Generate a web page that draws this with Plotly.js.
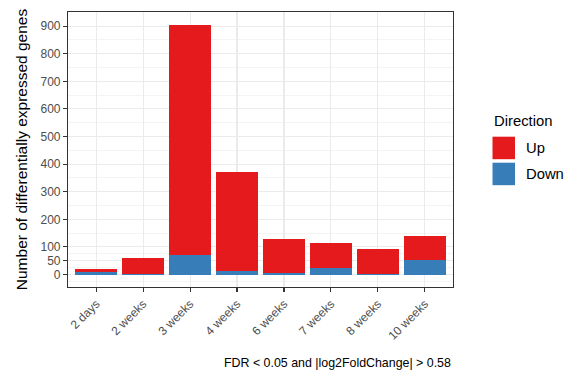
<!DOCTYPE html>
<html>
<head>
<meta charset="utf-8">
<script src="https://cdn.plot.ly/plotly-3.0.1.min.js"></script>
<style>
  html, body { margin: 0; padding: 0; background: #fff; }
  #chart { width: 565px; height: 375px; }
</style>
</head>
<body>
<div id="chart"></div>
<script>
// Time points after treatment
const timepoints = ['2 days', '2 weeks', '3 weeks', '4 weeks', '6 weeks', '7 weeks', '8 weeks', '10 weeks'];
// Number of differentially expressed genes per direction
const downGenes = [10, 2, 69, 14, 7, 22, 3, 53];
const upGenes   = [9, 59, 837, 358, 123, 93, 88, 88];
// Y axis breaks
const yBreaks = [0, 50, 100, 200, 300, 400, 500, 600, 700, 800, 900];
const yMinorBreaks = [-25, 25, 75, 150, 250, 350, 450, 550, 650, 750, 850, 950];

const colUp = '#E41A1C';
const colDown = '#377EB8';
const font = 'Liberation Sans, Arial, Helvetica, sans-serif';

const totals = upGenes.map((u, i) => u + downGenes[i]);
const ymax = Math.max(...totals);
const pad = 0.05 * ymax;

const traces = [
  { type: 'bar', name: 'Down', x: timepoints, y: downGenes,
    marker: { color: colDown, line: { width: 0 } }, showlegend: false, hoverinfo: 'x+y+name' },
  { type: 'bar', name: 'Up', x: timepoints, y: upGenes,
    marker: { color: colUp, line: { width: 0 } }, showlegend: false, hoverinfo: 'x+y+name' }
];

// Legend drawn as keys in paper space to the right of the panel
const keyX0 = 492.5, keyW = 22.5, keyH = 22.5;
const W = 565, H = 375;
const L = 68, R = 112, T = 12, B = 88;
const pw = W - L - R, ph = H - T - B;
const px = v => (v - L) / pw;
const py = v => 1 - (v - T) / ph;

const legendKeys = [
  { label: 'Up', color: colUp, top: 136.7 },
  { label: 'Down', color: colDown, top: 162.7 }
];

const shapes = legendKeys.map(k => ({
  type: 'rect', xref: 'paper', yref: 'paper',
  x0: px(keyX0), x1: px(keyX0 + keyW), y0: py(k.top + keyH), y1: py(k.top),
  fillcolor: k.color, line: { width: 0 }
}));

const annotations = [
  { text: 'Direction', xref: 'paper', yref: 'paper', x: px(492), y: py(121),
    xanchor: 'left', yanchor: 'middle', showarrow: false,
    font: { family: font, size: 14.8, color: '#000' } },
  ...legendKeys.map(k => ({
    text: k.label, xref: 'paper', yref: 'paper', x: px(524), y: py(k.top + keyH / 2),
    xanchor: 'left', yanchor: 'middle', showarrow: false,
    font: { family: font, size: 14.8, color: '#000' }
  })),
  { text: 'FDR < 0.05 and |log2FoldChange| > 0.58', xref: 'paper', yref: 'paper',
    x: 1, y: py(363), xanchor: 'right', yanchor: 'middle', showarrow: false,
    font: { family: font, size: 12.4, color: '#000' } }
];

const layout = {
  width: W, height: H,
  margin: { l: L, r: R, t: T, b: B, pad: 0 },
  paper_bgcolor: '#fff', plot_bgcolor: '#fff',
  barmode: 'stack', bargap: 0.1,
  font: { family: font, color: '#000' },
  showlegend: false,
  xaxis: {
    type: 'category', categoryorder: 'array', categoryarray: timepoints,
    range: [-0.6, timepoints.length - 0.4],
    showgrid: true, gridcolor: '#EBEBEB', gridwidth: 1.1,
    showline: true, mirror: true, linecolor: '#333333', linewidth: 1.1,
    ticks: 'outside', ticklen: 4, tickwidth: 1.1, tickcolor: '#333333',
    tickangle: -45, tickfont: { family: font, size: 12, color: '#4D4D4D' },
    zeroline: false, fixedrange: true
  },
  yaxis: {
    range: [-pad, ymax + pad],
    tickmode: 'array', tickvals: yBreaks, ticktext: yBreaks.map(String),
    showgrid: true, gridcolor: '#EBEBEB', gridwidth: 1.1,
    minor: { tickmode: 'array', tickvals: yMinorBreaks, showgrid: true,
             gridcolor: '#EBEBEB', gridwidth: 0.55, ticks: '' },
    showline: true, mirror: true, linecolor: '#333333', linewidth: 1.1,
    ticks: 'outside', ticklen: 4, tickwidth: 1.1, tickcolor: '#333333',
    tickfont: { family: font, size: 12, color: '#4D4D4D' },
    title: { text: 'Number of differentially expressed genes', standoff: 9,
             font: { family: font, size: 15.5, color: '#000' } },
    zeroline: false, fixedrange: true
  },
  shapes: shapes,
  annotations: annotations
};

Plotly.newPlot('chart', traces, layout, { displayModeBar: false, staticPlot: true });
</script>
</body>
</html>
